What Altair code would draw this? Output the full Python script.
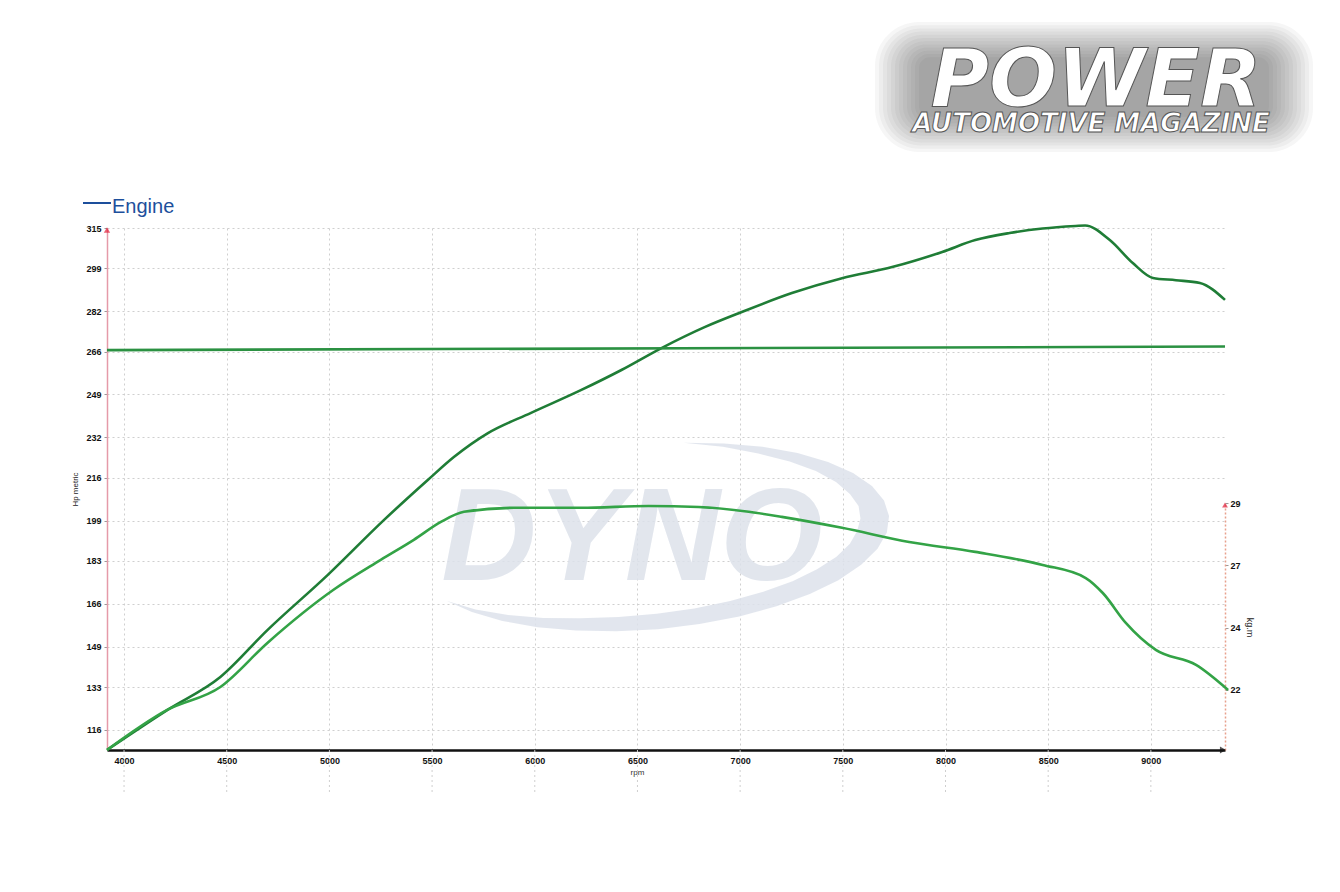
import math
import altair as alt
import pandas as pd

# ---------------- data ----------------
rpm_power = [3917, 4210, 4469, 4698, 4991, 5265, 5479, 5606, 5772, 5982, 6227, 6422,
             6617, 6827, 7008, 7252, 7496, 7740, 7984, 8145, 8312, 8473, 8634, 8680,
             8800, 8912, 9010, 9122, 9239, 9361]
hp_power = [108.1, 123.9, 137.0, 155.6, 177.4, 199.2, 215.1, 224.2, 233.7, 241.7, 250.8, 258.7,
            267.4, 275.7, 281.7, 289.2, 295.1, 299.5, 305.5, 310.2, 313.0, 314.8, 315.8, 316.0,
            310.2, 301.1, 295.2, 294.3, 293.2, 286.5]

rpm_torque = [3917, 4210, 4469, 4698, 5020, 5250, 5411, 5543, 5655, 5899, 6227, 6554, 6798,
              7042, 7203, 7496, 7823, 8145, 8473, 8683, 8766, 8878, 9024, 9220, 9376]
kgm_torque = [19.75, 21.25, 22.11, 23.76, 25.75, 26.87, 27.62, 28.29, 28.67, 28.82, 28.82, 28.89,
              28.85, 28.67, 28.48, 28.07, 27.54, 27.17, 26.68, 26.19, 25.63, 24.51, 23.50, 22.94, 22.0]

rpm_ref = [3917, 9361]
hp_ref = [266.6, 268.0]

x_ticks = [4000, 4500, 5000, 5500, 6000, 6500, 7000, 7500, 8000, 8500, 9000]
hp_ticks = [116, 133, 149, 166, 183, 199, 216, 232, 249, 266, 282, 299, 315]
kgm_ticks = [22, 24.33, 26.67, 29]

# ---------------- layout ----------------
W, H = 1118, 522
FONT = "Liberation Sans"
GRID = "#cfcfcf"

hp_df = pd.DataFrame({
    "rpm": rpm_power + rpm_ref,
    "hp": hp_power + hp_ref,
    "series": ["power"] * len(rpm_power) + ["ref"] * len(rpm_ref),
})
tq_df = pd.DataFrame({"rpm": rpm_torque, "kgm": kgm_torque})
grid_df = pd.DataFrame({"rpm": x_ticks})
one = pd.DataFrame({"k": [0]})

xscale = alt.Scale(domain=[3917, 9361], nice=False, zero=False)
xaxis = alt.Axis(values=x_ticks, format="d", title="rpm", grid=True, gridColor=GRID,
                 gridDash=[2, 3], gridWidth=1, domainColor="#111", domainWidth=2.5,
                 ticks=False, labelFont=FONT, labelFontWeight="bold", labelFontSize=9,
                 labelColor="#111", labelPadding=6, titleFont=FONT, titleFontSize=8,
                 titleFontWeight="normal", titleColor="#333", titleX=530, titleY=22,
                 titleBaseline="middle")
X = alt.X("rpm:Q", scale=xscale, axis=xaxis)

Y = alt.Y("hp:Q",
          scale=alt.Scale(domain=[108.07, 315], nice=False, zero=False),
          axis=alt.Axis(values=hp_ticks, format="d", title="Hp metric", grid=True,
                        gridColor=GRID, gridDash=[2, 3], gridWidth=1,
                        domainColor="#e59aa9", domainWidth=1.5, tickSize=3,
                        tickColor="#999", labelFont=FONT, labelFontWeight="bold",
                        labelFontSize=9, labelColor="#111", labelPadding=3,
                        titleFont=FONT, titleFontSize=8, titleFontWeight="normal",
                        titleColor="#222", titlePadding=6))

Yt = alt.Y("kgm:Q",
           scale=alt.Scale(domain=[19.75, 29], range=[H, 275], nice=False, zero=False),
           axis=alt.Axis(orient="right", values=kgm_ticks, format=".0f", title="kg.m",
                         grid=False, domainColor="#e8a08c", domainDash=[2, 2],
                         domainWidth=1.5, tickSize=3, tickColor="#999", labelFont=FONT,
                         labelFontWeight="bold", labelFontSize=9, labelColor="#111",
                         labelPadding=2, titleFont=FONT, titleFontSize=9,
                         titleFontWeight="normal", titleColor="#222", titleAngle=90,
                         titleX=24, titleY=399, titleBaseline="middle", titleAlign="center"))

# ---------------- watermark swoosh shape ----------------
thick = [(-80, 0), (-70, .02), (-60, .04), (-50, .055), (-40, .07), (-30, .085), (-20, .1),
         (-10, .11), (0, .12), (10, .125), (20, .12), (30, .115), (40, .11), (50, .105),
         (60, .1), (70, .095), (80, .09), (90, .085), (100, .08), (110, .07), (120, .055),
         (130, .04), (140, .02), (150, 0)]
RY = 0.385
phi = math.radians(-5)


def rot(px, py):
    return (px * math.cos(phi) - py * math.sin(phi), px * math.sin(phi) + py * math.cos(phi))


outer, inner = [], []
for d, t in thick:
    a = math.radians(d)
    outer.append(rot(math.cos(a), RY * math.sin(a)))
    inner.append(rot(math.cos(a) * (1 - t), math.sin(a) * (RY - 0.75 * t)))
pts = outer + inner[::-1][1:-1]
swoosh_path = "M " + " L ".join(f"{p[0]:.3f} {p[1]:.3f}" for p in pts) + " Z"

swoosh = alt.Chart(one).mark_point(shape=swoosh_path, filled=True, color="#dde2eb",
                                   opacity=0.85, strokeWidth=0, size=480 ** 2).encode(
    x=alt.value(543), y=alt.value(309))
dyno = alt.Chart(one).mark_text(text="DYNO", font=FONT, fontWeight="bold", fontStyle="italic",
                                fontSize=132, color="#dde2eb", opacity=0.85, align="center",
                                baseline="middle").encode(x=alt.value(525), y=alt.value(312))

grid_ext = alt.Chart(grid_df).mark_rule(color=GRID, strokeDash=[2, 3], strokeWidth=1).encode(
    x=X, y=alt.value(H), y2=alt.value(H + 45))

hp_lines = alt.Chart(hp_df).mark_line(strokeWidth=2.6, interpolate="monotone").encode(
    x=X, y=Y,
    color=alt.Color("series:N", scale=alt.Scale(domain=["power", "ref"],
                                                 range=["#1f7d36", "#2b9142"]), legend=None),
    detail="series:N")

tq_line = alt.Chart(tq_df).mark_line(strokeWidth=2.6, color="#33a346",
                                     interpolate="monotone").encode(x=X, y=Yt)

arrow_l = alt.Chart(one).mark_point(shape="triangle-up", filled=True, color="#e0203a",
                                    size=40, strokeWidth=0).encode(x=alt.value(0), y=alt.value(2))
arrow_r = alt.Chart(one).mark_point(shape="triangle-up", filled=True, color="#e0203a",
                                    size=34, strokeWidth=0).encode(x=alt.value(W), y=alt.value(277))
arrow_x = alt.Chart(one).mark_point(shape="triangle-right", filled=True, color="#111",
                                    size=50, strokeWidth=0).encode(x=alt.value(W - 2), y=alt.value(H))

# legend
leg_dash = alt.Chart(one).mark_rule(color="#1d4f9c", strokeWidth=2).encode(
    x=alt.value(-24), x2=alt.value(4), y=alt.value(-25))
leg_txt = alt.Chart(one).mark_text(text="Engine", font=FONT, fontSize=20, color="#1d4f9c",
                                   align="left", baseline="alphabetic").encode(
    x=alt.value(5), y=alt.value(-15))

# logo: soft grey glow made of many faint stacked rounded boxes, white text on top
glow = []
for i in range(12):
    inset = i * 4
    glow.append(alt.Chart(one).mark_rect(color="#2e2e2e", opacity=0.045,
                                         cornerRadius=max(44 - i * 3, 6)).encode(
        x=alt.value(768 + inset), x2=alt.value(1206 - inset),
        y=alt.value(-206 + inset * 0.8), y2=alt.value(-76 - inset * 0.8)))


def logo(text, size, x, y):
    return alt.Chart(one).mark_text(text=text, font="DejaVu Sans", fontWeight="bold",
                                    fontStyle="italic", fontSize=size, align="center",
                                    baseline="alphabetic", color="#ffffff", stroke="#555555",
                                    strokeWidth=1.0).encode(x=alt.value(x), y=alt.value(y))


logo_power = logo("POWER", 80, 989, -122)
logo_sub = logo("AUTOMOTIVE MAGAZINE", 26, 984, -96)

chart = alt.layer(
    swoosh, dyno, grid_ext, hp_lines, tq_line, arrow_l, arrow_r, arrow_x,
    leg_dash, leg_txt, *glow, logo_power, logo_sub
).resolve_scale(y="independent").properties(
    width=W, height=H,
    padding={"left": 99, "top": 220, "right": 107, "bottom": 134},
    autosize=alt.AutoSizeParams(type="none"),
    background="#ffffff",
).configure_view(stroke=None)

chart.save("out.html", embed_options={"renderer": "svg", "actions": False})
